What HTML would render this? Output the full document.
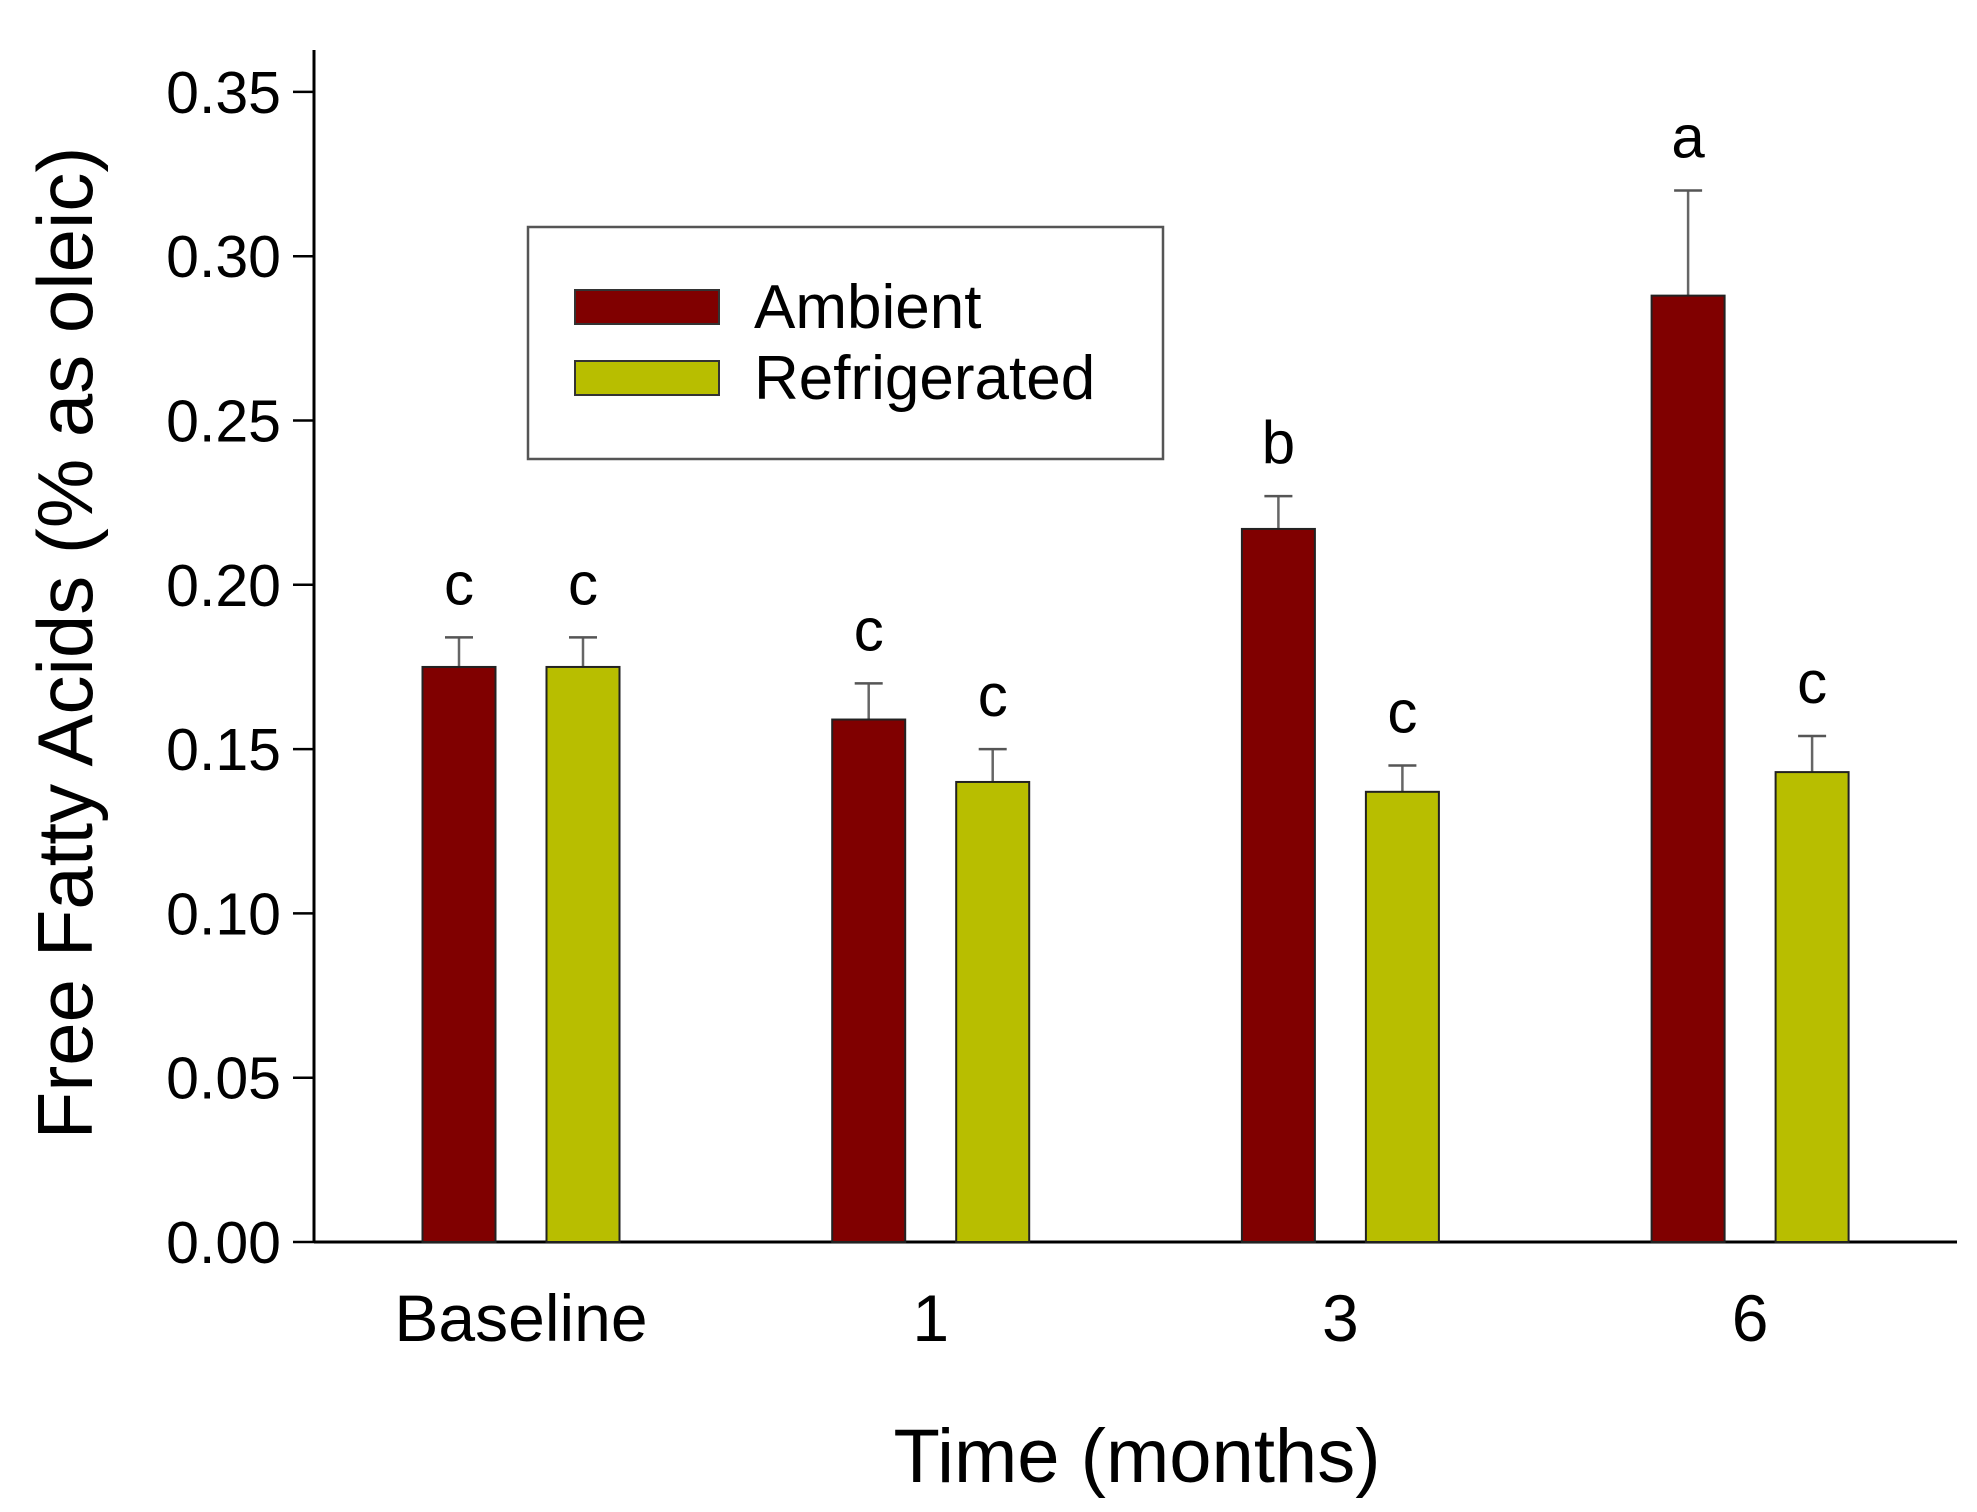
<!DOCTYPE html>
<html><head><meta charset="utf-8"><style>body{margin:0;background:#fff}svg{display:block}text{font-family:"Liberation Sans",sans-serif;fill:#000}</style></head>
<body>
<svg id="chart" width="1977" height="1512" viewBox="0 0 1977 1512" xmlns="http://www.w3.org/2000/svg">
<g id="axes"></g><g id="bars"></g>
<g>
<rect x="528" y="227" width="635" height="232" fill="#fff" stroke="#555" stroke-width="2.5"/>
<rect x="575" y="290" width="144" height="34" fill="#800000" stroke="#333" stroke-width="2"/>
<text x="754" y="328" font-size="62">Ambient</text>
<rect x="575" y="361" width="144" height="34" fill="#b8be00" stroke="#333" stroke-width="2"/>
<text x="754" y="399" font-size="62">Refrigerated</text>
</g>
<text x="1137" y="1482" font-size="76" text-anchor="middle">Time (months)</text>
<text transform="translate(92,643) rotate(-90)" font-size="78" text-anchor="middle">Free Fatty Acids (% as oleic)</text>
</svg>
<script>
const categories = ["Baseline","1","3","6"];
const ambient = [0.175,0.159,0.217,0.288];
const ambientErr = [0.009,0.011,0.010,0.032];
const refrigerated = [0.175,0.140,0.137,0.143];
const refrigeratedErr = [0.009,0.010,0.008,0.011];
const ambientLetters = ["c","c","b","a"];
const refrigeratedLetters = ["c","c","c","c"];
const yTicks = [0,0.05,0.10,0.15,0.20,0.25,0.30,0.35];
const yTickLabels = ["0.00","0.05","0.10","0.15","0.20","0.25","0.30","0.35"];

const NS="http://www.w3.org/2000/svg";
const x0=314,yBase=1242,pxPerUnit=164.3/0.05;
const y=v=>yBase-v*pxPerUnit;
const xc=i=>521+i*409.7;
function mk(tag,attrs,parent,txt){const e=document.createElementNS(NS,tag);for(const k in attrs)e.setAttribute(k,attrs[k]);if(txt!==undefined)e.textContent=txt;parent.appendChild(e);return e;}
const axes=document.getElementById('axes'),bars=document.getElementById('bars');
let a=mk('line',{x1:x0,y1:50,x2:x0,y2:yBase,stroke:'#000','stroke-width':3},axes);


a=mk('line',{x1:x0,y1:yBase,x2:1957,y2:yBase,stroke:'#000','stroke-width':3},axes);


yTicks.forEach((v,i)=>{
 const t=mk('line',{x1:293,y1:y(v),x2:x0,y2:y(v),stroke:'#000','stroke-width':2.5},axes);
 
 
 const l=mk('text',{x:281,y:y(v)+21,'font-size':59,'text-anchor':'end'},axes,yTickLabels[i]);
 
 
});
categories.forEach((c,i)=>{
 const l=mk('text',{x:xc(i),y:1341,'font-size':66,'text-anchor':'middle'},axes,c);
 
 
 [[ambient,ambientErr,ambientLetters,'#800000',-62,'ambient'],[refrigerated,refrigeratedErr,refrigeratedLetters,'#b8be00',62,'refrigerated']].forEach(s=>{
  const cx=xc(i)+s[4],v=s[0][i],e=s[1][i];
  const eb=mk('line',{x1:cx,y1:y(v),x2:cx,y2:y(v+e),stroke:'#666','stroke-width':2.5},bars);
  
  
  const cap=mk('line',{x1:cx-14,y1:y(v+e),x2:cx+14,y2:y(v+e),stroke:'#555','stroke-width':2.5},bars);
  
  
  const r=mk('rect',{x:cx-36.5,y:y(v),width:73,height:v*pxPerUnit,fill:s[3],stroke:'#222','stroke-width':2},bars);
  
  
  const t=mk('text',{x:cx,y:y(v+e)-33,'font-size':60,'text-anchor':'middle'},bars,s[2][i]);
  
  
 });
});
</script>
</body></html>
